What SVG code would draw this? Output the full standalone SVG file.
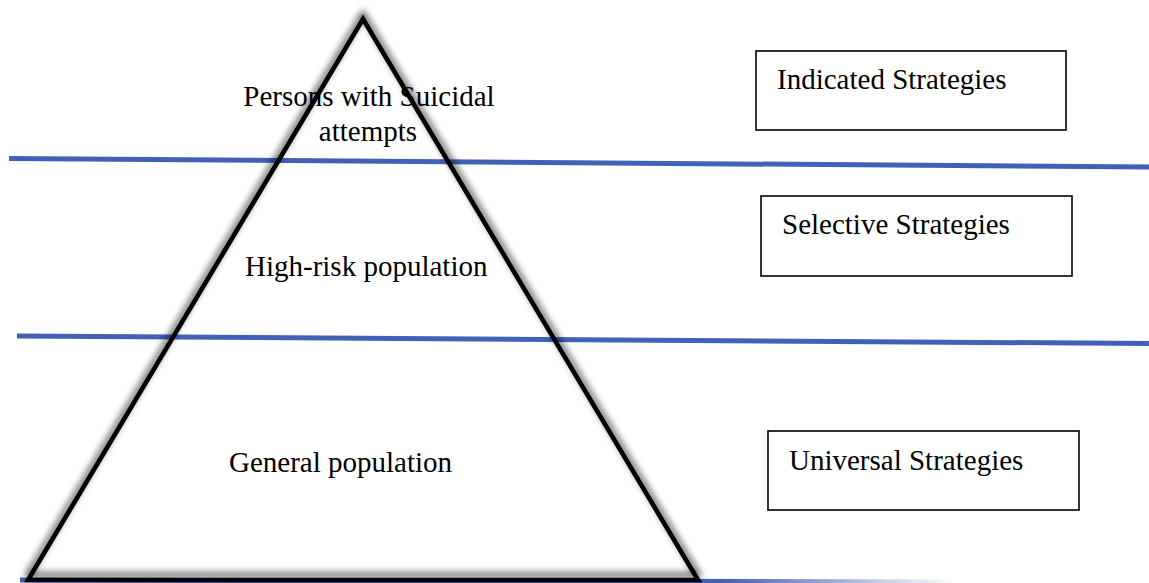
<svg xmlns="http://www.w3.org/2000/svg" width="1149" height="583" viewBox="0 0 1149 583">
  <style>
    .t { font-family: "Liberation Serif", "Times New Roman", serif; font-size: 29px; fill: #000; }
    .band { stroke: #4161B6; stroke-width: 5; fill: none; }
    .box { fill: #fff; stroke: #000; stroke-width: 1.6; }
  </style>
  <defs>
    <filter id="shadow" x="-10%" y="-10%" width="120%" height="120%">
      <feGaussianBlur in="SourceAlpha" stdDeviation="3.5" result="b"/>
      <feOffset in="b" dx="0" dy="-5" result="o"/>
      <feComponentTransfer in="o" result="s">
        <feFuncA type="linear" slope="0.75"/>
      </feComponentTransfer>
      <feMerge>
        <feMergeNode in="s"/>
        <feMergeNode in="SourceGraphic"/>
      </feMerge>
    </filter>
    <linearGradient id="fade" gradientUnits="userSpaceOnUse" x1="20" y1="0" x2="955" y2="0">
      <stop offset="0" stop-color="#4161B6"/>
      <stop offset="0.75" stop-color="#4161B6"/>
      <stop offset="1" stop-color="#4161B6" stop-opacity="0"/>
    </linearGradient>
  </defs>
  <rect width="1149" height="583" fill="#fff"/>

  <g id="connectors">
    <line class="band" x1="9" y1="158.5" x2="1149" y2="167"/>
    <line class="band" x1="17" y1="336" x2="1149" y2="343.5"/>
    <line x1="20" y1="580" x2="955" y2="582" stroke="url(#fade)" stroke-width="5"/>
  </g>

  <g id="pyramid">
    <polygon points="363,19 698,580 28,580" fill="none" stroke="#000" stroke-width="4.6" stroke-linejoin="miter" filter="url(#shadow)"/>
  </g>

  <g id="tier-top">
    <text class="t" x="369" y="106" text-anchor="middle">Persons with Suicidal</text>
    <text class="t" x="368" y="141" text-anchor="middle">attempts</text>
  </g>
  <g id="tier-middle">
    <text class="t" x="245" y="276">High-risk population</text>
  </g>
  <g id="tier-bottom">
    <text class="t" x="229" y="472">General population</text>
  </g>

  <g id="box-indicated">
    <rect class="box" x="756" y="51" width="310" height="79"/>
    <text class="t" x="777" y="89">Indicated Strategies</text>
  </g>
  <g id="box-selective">
    <rect class="box" x="761" y="196" width="311" height="80"/>
    <text class="t" x="782" y="234">Selective Strategies</text>
  </g>
  <g id="box-universal">
    <rect class="box" x="768" y="431" width="311" height="79"/>
    <text class="t" x="789" y="470">Universal Strategies</text>
  </g>
</svg>
